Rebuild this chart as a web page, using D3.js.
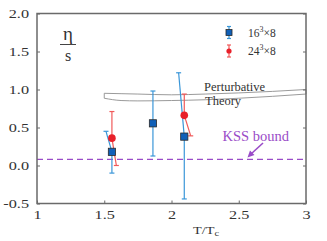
<!DOCTYPE html>
<html><head><meta charset="utf-8">
<script src="https://cdn.jsdelivr.net/npm/d3@7/dist/d3.min.js"></script>
<style>body{margin:0;background:#fff}svg{display:block}svg text{font-family:'Liberation Serif',serif !important}</style>
</head><body><svg id="c" width="327" height="241" font-family="Liberation Serif"></svg>
<script>
// ---- data ----
const xTicks = [1, 1.5, 2, 2.5, 3];
const xTickLabels = ["1", "1.5", "2", "2.5", "3"];
const yTicks = [-0.5, 0, 0.5, 1, 1.5, 2];
const yTickLabels = ["-0.5", "0.0", "0.5", "1.0", "1.5", "2.0"];

// 16^3 x 8 (blue squares); error bar ends are slanted in the source
const blueX   = [1.557, 1.862, 2.095];
const blueY   = [0.18, 0.555, 0.38];
const blueHi  = [0.45, 0.98, 1.22];
const blueLo  = [-0.10, 0.125, -0.44];
const blueHiX = [1.513, 1.862, 2.053];
const blueLoX = [1.557, 1.862, 2.095];

// 24^3 x 8 (red circles)
const redX   = [1.557, 2.095];
const redY   = [0.36, 0.66];
const redHi  = [0.71, 0.94];
const redLo  = [0.0, 0.39];
const redHiX = [1.557, 2.095];
const redLoX = [1.59, 2.143];

// perturbative theory band
const bandX     = [1.5, 1.625, 1.75, 2.0, 2.25, 2.5, 2.75, 3.0];
const bandUpper = [0.95, 0.945, 0.94, 0.93, 0.94, 0.955, 0.975, 1.0];
const bandLower = [0.885, 0.855, 0.85, 0.855, 0.865, 0.885, 0.91, 0.94];

const kssValue = 1 / (4 * Math.PI);

// ---- layout ----
const FONT = "Liberation Serif";
const svg = d3.select("#c");
const L = 37, R = 306, T = 13.5, B = 203.5;
const x = d3.scaleLinear().domain([1, 3]).range([L, R]);
const y = d3.scaleLinear().domain([-0.5, 2]).range([B, T]);
const axisCol = "#6a6a6a";
const blueBar = "#3a96d8", blueFill = "#1060b8";
const redBar = "#f05a5a", redFill = "#e8202a";
const purple = "#9a4cc8";
const SX = 1.3; // horizontal stretch of the tick lettering in the source

// band
const bandArea = d3.area().x((d, i) => x(bandX[i])).y0((d, i) => y(bandLower[i])).y1((d, i) => y(bandUpper[i])).curve(d3.curveMonotoneX);
svg.append("path").attr("d", bandArea(bandX)).attr("fill", "#fff").attr("stroke", "#8f8f8f").attr("stroke-width", 0.9);

// KSS dashed line
svg.append("line").attr("x1", x(1)).attr("x2", x(3)).attr("y1", y(kssValue)).attr("y2", y(kssValue))
  .attr("stroke", purple).attr("stroke-width", 1.3).attr("stroke-dasharray", "6,4");

// frame
svg.append("rect").attr("x", L).attr("y", T).attr("width", R - L).attr("height", B - T)
  .attr("fill", "none").attr("stroke", axisCol).attr("stroke-width", 1.5);

// axes (inward ticks)
const xAxis = d3.axisBottom(x).tickValues(xTicks).tickFormat((d, i) => xTickLabels[i]).tickSizeInner(-3).tickSizeOuter(0).tickPadding(6.5);
const gx = svg.append("g").attr("transform", `translate(0,${B})`).call(xAxis);
const yAxis = d3.axisLeft(y).tickValues(yTicks).tickFormat((d, i) => yTickLabels[i]).tickSizeInner(-3).tickSizeOuter(0).tickPadding(8);
const gy = svg.append("g").attr("transform", `translate(${L},0)`).call(yAxis);
const yAxisR = d3.axisRight(y).tickValues(yTicks).tickFormat("").tickSizeInner(-3).tickSizeOuter(0);
const gyr = svg.append("g").attr("transform", `translate(${R},0)`).call(yAxisR);
[gx, gy, gyr].forEach(g => {
  g.attr("font-family", FONT);
  g.select(".domain").remove();
  g.selectAll("line").attr("stroke", axisCol).attr("stroke-width", 1);
  g.selectAll("text").attr("fill", "#333").style("font-size", "12.5px").attr("font-family", FONT)
    .attr("transform", function () {
      const x0 = +this.getAttribute("x") || 0;
      return `translate(${x0},0) scale(${SX},1) translate(${-x0},0)`;
    });
});

// error bars
function errBars(X, Y, HI, LO, HIX, LOX, col) {
  const g = svg.append("g").attr("stroke", col).attr("stroke-width", 1.2);
  X.forEach((d, i) => {
    g.append("line").attr("x1", x(HIX[i])).attr("y1", y(HI[i])).attr("x2", x(X[i])).attr("y2", y(Y[i]));
    g.append("line").attr("x1", x(X[i])).attr("y1", y(Y[i])).attr("x2", x(LOX[i])).attr("y2", y(LO[i]));
    g.append("line").attr("x1", x(HIX[i]) - 2.5).attr("x2", x(HIX[i]) + 2.5).attr("y1", y(HI[i])).attr("y2", y(HI[i]));
    g.append("line").attr("x1", x(LOX[i]) - 2.5).attr("x2", x(LOX[i]) + 2.5).attr("y1", y(LO[i])).attr("y2", y(LO[i]));
  });
}
errBars(redX, redY, redHi, redLo, redHiX, redLoX, redBar);
errBars(blueX, blueY, blueHi, blueLo, blueHiX, blueLoX, blueBar);

// markers
svg.append("g").selectAll("circle").data(redX).join("circle")
  .attr("cx", d => x(d)).attr("cy", (d, i) => y(redY[i])).attr("r", 3.8).attr("fill", redFill);
svg.append("g").selectAll("rect").data(blueX).join("rect")
  .attr("x", d => x(d) - 3.6).attr("y", (d, i) => y(blueY[i]) - 3.6).attr("width", 7.2).attr("height", 7.2)
  .attr("fill", blueFill).attr("stroke", "#2a2a2a").attr("stroke-width", 0.8);

// legend
function legendBar(cx, cy, col) {
  const g = svg.append("g").attr("stroke", col).attr("stroke-width", 1.2);
  g.append("line").attr("x1", cx).attr("x2", cx).attr("y1", cy - 6).attr("y2", cy + 6);
  g.append("line").attr("x1", cx - 2).attr("x2", cx + 2).attr("y1", cy - 6).attr("y2", cy - 6);
  g.append("line").attr("x1", cx - 2).attr("x2", cx + 2).attr("y1", cy + 6).attr("y2", cy + 6);
}
legendBar(229, 32.5, blueBar);
svg.append("rect").attr("x", 226).attr("y", 29.5).attr("width", 6).attr("height", 6).attr("fill", blueFill).attr("stroke", "#2a2a2a").attr("stroke-width", 0.8);
legendBar(229, 51, redBar);
svg.append("circle").attr("cx", 229).attr("cy", 51).attr("r", 2.6).attr("fill", redFill);

function legendText(tx, ty, a) {
  const t = svg.append("text").attr("x", tx).attr("y", ty).attr("fill", "#333").style("font-size", "11.5px").attr("font-family", FONT);
  t.append("tspan").text(a);
  t.append("tspan").attr("dy", -5).style("font-size", "8px").text("3");
  t.append("tspan").attr("dy", 5).text("\u00d78");
}
legendText(248, 37, "16");
legendText(248, 55, "24");

// eta / s
svg.append("text").attr("x", 68).attr("y", 40).attr("text-anchor", "middle").attr("fill", "#333").style("font-size", "19px").attr("font-family", FONT).text("\u03b7");
svg.append("line").attr("x1", 60).attr("x2", 76).attr("y1", 44.5).attr("y2", 44.5).attr("stroke", "#444").attr("stroke-width", 1);
svg.append("text").attr("x", 68).attr("y", 61).attr("text-anchor", "middle").attr("fill", "#333").style("font-size", "16px").attr("font-family", FONT).text("s");

// perturbative theory label
svg.append("text").attr("x", 204).attr("y", 91).attr("fill", "#333").style("font-size", "12.5px").attr("font-family", FONT).text("Perturbative");
svg.append("text").attr("x", 205).attr("y", 105).attr("fill", "#333").style("font-size", "12.5px").attr("font-family", FONT).text("Theory");

// KSS label + arrow
svg.append("text").attr("x", 222.5).attr("y", 141).attr("fill", purple).style("font-size", "14.5px").attr("font-family", FONT).text("KSS bound");
svg.append("line").attr("x1", 263).attr("y1", 143).attr("x2", 251).attr("y2", 154)
  .attr("stroke", purple).attr("stroke-width", 1.6);
svg.append("path").attr("d", "M247.5,157.5 L250,150.5 L254.5,155 Z").attr("fill", purple);

// x-axis title
const xt = svg.append("text").attr("x", 0).attr("y", 0).attr("text-anchor", "middle").attr("fill", "#333")
  .attr("transform", `translate(206,234) scale(${SX},1)`).style("font-size", "11px").attr("font-family", FONT);
xt.append("tspan").text("T/T");
xt.append("tspan").attr("dy", 1.5).style("font-size", "8px").text("c");
</script></body></html>
